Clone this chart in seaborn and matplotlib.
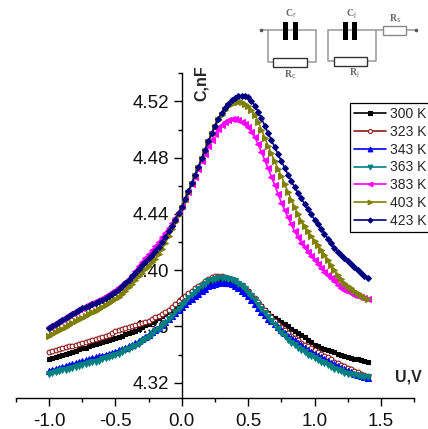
import pandas as pd
import matplotlib.pyplot as plt
import matplotlib.patches as patches
from matplotlib.ticker import MultipleLocator, FormatStrFormatter
import seaborn as sns

# bias voltage, V
U = [-1.000, -0.975, -0.950, -0.925, -0.900, -0.875, -0.850, -0.825, -0.800, -0.775, -0.750, -0.725, -0.700, -0.675, -0.650, -0.625,
     -0.600, -0.575, -0.550, -0.525, -0.500, -0.475, -0.450, -0.425, -0.400, -0.375, -0.350, -0.325, -0.300, -0.275, -0.250, -0.225,
     -0.200, -0.175, -0.150, -0.125, -0.100, -0.075, -0.050, -0.025, 0.000, 0.025, 0.050, 0.075, 0.100, 0.125, 0.150, 0.175,
     0.200, 0.225, 0.250, 0.275, 0.300, 0.325, 0.350, 0.375, 0.400, 0.425, 0.450, 0.475, 0.500, 0.525, 0.550, 0.575,
     0.600, 0.625, 0.650, 0.675, 0.700, 0.725, 0.750, 0.775, 0.800, 0.825, 0.850, 0.875, 0.900, 0.925, 0.950, 0.975,
     1.000, 1.025, 1.050, 1.075, 1.100, 1.125, 1.150, 1.175, 1.200, 1.225, 1.250, 1.275, 1.300, 1.325, 1.350, 1.375, 1.400]

# capacitance, nF
c_300 = [4.3370,4.3378,4.3385,4.3393,4.3400,4.3407,4.3414,4.3421,4.3428,4.3436,4.3443,4.3450,4.3458,4.3466,4.3473,4.3480,
         4.3488,4.3495,4.3502,4.3510,4.3517,4.3526,4.3535,4.3544,4.3552,4.3561,4.3570,4.3582,4.3595,4.3607,4.3620,4.3632,
         4.3645,4.3658,4.3672,4.3686,4.3700,4.3714,4.3728,4.3741,4.3755,4.3772,4.3790,4.3807,4.3825,4.3845,4.3865,4.3886,
         4.3905,4.3919,4.3930,4.3936,4.3940,4.3938,4.3935,4.3926,4.3915,4.3903,4.3890,4.3871,4.3850,4.3823,4.3795,4.3770,
         4.3745,4.3720,4.3695,4.3677,4.3660,4.3645,4.3630,4.3615,4.3600,4.3585,4.3570,4.3555,4.3540,4.3522,4.3505,4.3487,
         4.3470,4.3460,4.3450,4.3440,4.3430,4.3422,4.3415,4.3407,4.3400,4.3392,4.3385,4.3377,4.3370,4.3365,4.3360,4.3355,4.3350]
c_323 = [4.3419,4.3425,4.3432,4.3438,4.3445,4.3451,4.3458,4.3464,4.3470,4.3477,4.3483,4.3490,4.3497,4.3503,4.3510,4.3517,
         4.3524,4.3532,4.3540,4.3552,4.3564,4.3572,4.3580,4.3587,4.3595,4.3602,4.3610,4.3617,4.3625,4.3633,4.3642,4.3653,
         4.3665,4.3677,4.3690,4.3705,4.3720,4.3740,4.3760,4.3780,4.3800,4.3817,4.3835,4.3852,4.3870,4.3887,4.3905,4.3923,
         4.3940,4.3949,4.3955,4.3958,4.3960,4.3953,4.3945,4.3935,4.3925,4.3911,4.3895,4.3874,4.3850,4.3826,4.3800,4.3773,
         4.3745,4.3718,4.3690,4.3665,4.3640,4.3618,4.3597,4.3573,4.3550,4.3532,4.3515,4.3500,4.3485,4.3471,4.3458,4.3445,
         4.3433,4.3419,4.3405,4.3392,4.3380,4.3365,4.3350,4.3338,4.3326,4.3315,4.3305,4.3295,4.3285,4.3275,4.3265,4.3256,4.3248]
c_343 = [4.3286,4.3292,4.3298,4.3304,4.3310,4.3318,4.3325,4.3332,4.3338,4.3345,4.3352,4.3358,4.3365,4.3372,4.3380,4.3387,
         4.3393,4.3399,4.3405,4.3412,4.3420,4.3430,4.3440,4.3450,4.3460,4.3470,4.3480,4.3495,4.3510,4.3525,4.3540,4.3557,
         4.3575,4.3592,4.3610,4.3630,4.3650,4.3672,4.3695,4.3718,4.3740,4.3760,4.3780,4.3798,4.3815,4.3832,4.3850,4.3868,
         4.3885,4.3896,4.3905,4.3910,4.3913,4.3912,4.3910,4.3901,4.3890,4.3873,4.3855,4.3835,4.3813,4.3787,4.3760,4.3733,
         4.3705,4.3680,4.3655,4.3635,4.3615,4.3596,4.3576,4.3555,4.3535,4.3517,4.3500,4.3482,4.3465,4.3450,4.3435,4.3420,
         4.3405,4.3392,4.3380,4.3367,4.3355,4.3342,4.3330,4.3317,4.3305,4.3295,4.3285,4.3275,4.3265,4.3256,4.3248,4.3241,4.3234]
c_363 = [4.3262,4.3268,4.3275,4.3281,4.3287,4.3293,4.3300,4.3306,4.3313,4.3319,4.3325,4.3331,4.3338,4.3344,4.3350,4.3357,
         4.3365,4.3372,4.3380,4.3388,4.3397,4.3407,4.3418,4.3429,4.3440,4.3451,4.3462,4.3478,4.3495,4.3510,4.3526,4.3545,
         4.3565,4.3585,4.3605,4.3627,4.3650,4.3675,4.3700,4.3727,4.3754,4.3777,4.3800,4.3823,4.3845,4.3865,4.3885,4.3903,
         4.3920,4.3931,4.3940,4.3944,4.3946,4.3944,4.3940,4.3931,4.3920,4.3903,4.3885,4.3863,4.3840,4.3813,4.3785,4.3755,
         4.3725,4.3695,4.3665,4.3637,4.3610,4.3582,4.3554,4.3529,4.3505,4.3485,4.3465,4.3447,4.3430,4.3415,4.3400,4.3388,
         4.3376,4.3363,4.3350,4.3337,4.3325,4.3312,4.3300,4.3290,4.3280,4.3272,4.3265,4.3258,4.3252,4.3248,4.3245,4.3243,4.3241]
c_383 = [4.3597,4.3611,4.3625,4.3639,4.3653,4.3667,4.3681,4.3695,4.3708,4.3721,4.3733,4.3745,4.3757,4.3769,4.3778,4.3789,
         4.3800,4.3813,4.3827,4.3842,4.3858,4.3877,4.3897,4.3918,4.3940,4.3965,4.3995,4.4030,4.4060,4.4090,4.4115,4.4140,
         4.4170,4.4200,4.4235,4.4265,4.4300,4.4335,4.4372,4.4412,4.4455,4.4505,4.4555,4.4610,4.4665,4.4720,4.4775,4.4828,
         4.4880,4.4927,4.4970,4.5005,4.5035,4.5055,4.5070,4.5073,4.5072,4.5065,4.5055,4.5037,4.5015,4.4983,4.4945,4.4895,
         4.4840,4.4783,4.4725,4.4665,4.4605,4.4542,4.4480,4.4427,4.4375,4.4325,4.4275,4.4235,4.4195,4.4162,4.4130,4.4102,
         4.4074,4.4044,4.4015,4.3990,4.3965,4.3942,4.3920,4.3897,4.3875,4.3862,4.3850,4.3837,4.3825,4.3817,4.3810,4.3803,4.3797]
c_403 = [4.3533,4.3546,4.3559,4.3572,4.3585,4.3598,4.3611,4.3624,4.3637,4.3650,4.3663,4.3675,4.3687,4.3699,4.3711,4.3722,
         4.3735,4.3749,4.3763,4.3778,4.3794,4.3812,4.3832,4.3855,4.3880,4.3905,4.3930,4.3955,4.3980,4.4005,4.4030,4.4055,
         4.4082,4.4112,4.4148,4.4190,4.4240,4.4290,4.4340,4.4390,4.4440,4.4495,4.4550,4.4610,4.4670,4.4730,4.4790,4.4850,
         4.4910,4.4967,4.5020,4.5065,4.5105,4.5137,4.5165,4.5183,4.5195,4.5198,4.5195,4.5185,4.5170,4.5140,4.5105,4.5055,
         4.5000,4.4942,4.4885,4.4830,4.4775,4.4722,4.4669,4.4612,4.4555,4.4502,4.4450,4.4400,4.4350,4.4312,4.4275,4.4242,
         4.4210,4.4177,4.4145,4.4110,4.4075,4.4037,4.4000,4.3967,4.3935,4.3912,4.3890,4.3870,4.3850,4.3835,4.3820,4.3808,4.3797]
c_423 = [4.3590,4.3604,4.3618,4.3632,4.3646,4.3660,4.3674,4.3688,4.3702,4.3715,4.3728,4.3740,4.3748,4.3758,4.3768,4.3779,
         4.3790,4.3802,4.3815,4.3830,4.3847,4.3866,4.3887,4.3909,4.3932,4.3956,4.3982,4.4010,4.4035,4.4060,4.4085,4.4110,
         4.4135,4.4165,4.4200,4.4235,4.4275,4.4315,4.4360,4.4405,4.4450,4.4505,4.4560,4.4617,4.4675,4.4735,4.4795,4.4855,
         4.4915,4.4972,4.5025,4.5075,4.5120,4.5155,4.5185,4.5208,4.5225,4.5236,4.5240,4.5238,4.5230,4.5205,4.5170,4.5128,
         4.5080,4.5028,4.4975,4.4925,4.4875,4.4825,4.4776,4.4728,4.4680,4.4635,4.4590,4.4550,4.4510,4.4472,4.4435,4.4397,
         4.4360,4.4327,4.4293,4.4258,4.4225,4.4190,4.4155,4.4132,4.4110,4.4087,4.4065,4.4042,4.4020,4.3998,4.3978,4.3960,4.3945]

labels = ['300 K', '323 K', '343 K', '363 K', '383 K', '403 K', '423 K']
series = [c_300, c_323, c_343, c_363, c_383, c_403, c_423]
colors = ['#000000', '#8b1a1a', '#0000ff', '#008080', '#ff00ff', '#808000', '#000080']
markers = ['s', 'o', '^', 'v', '<', '>', 'D']
sizes = [3.4, 3.4, 4.0, 4.0, 4.0, 4.0, 3.0]

sns.set_style('white')
plt.rcParams['font.family'] = ['Liberation Sans', 'DejaVu Sans']

W, H = 428, 429
fig = plt.figure(figsize=(W / 100, H / 100), dpi=100)
ax = fig.add_axes([16 / W, 1 - 397.7 / H, 398 / W, 324.4 / H])

for name, vals, col, mk, size in zip(labels, series, colors, markers, sizes):
    face = 'white' if mk == 'o' else col
    sns.lineplot(x=U, y=vals, ax=ax, color=col, marker=mk, markersize=size, markerfacecolor=face,
                 markeredgecolor=col, markeredgewidth=0.8, linewidth=1.2, label=name, errorbar=None, zorder=3)

ax.set_xlim(-1.25, 1.75)
ax.set_ylim(4.3093, 4.54)
ax.set_xlabel('')
ax.set_ylabel('')

# axes cross at zero, no box
ax.spines['left'].set_position(('data', 0))
ax.spines['top'].set_visible(False)
ax.spines['right'].set_visible(False)
for s in ['left', 'bottom']:
    ax.spines[s].set_linewidth(1.0)
    ax.spines[s].set_color('black')

ax.xaxis.set_major_locator(MultipleLocator(0.5))
ax.xaxis.set_minor_locator(MultipleLocator(0.25))
ax.yaxis.set_major_locator(MultipleLocator(0.04))
ax.yaxis.set_minor_locator(MultipleLocator(0.02))
ax.xaxis.set_major_formatter(FormatStrFormatter('%.1f'))
ax.yaxis.set_major_formatter(FormatStrFormatter('%.2f'))
ax.tick_params(which='major', direction='out', length=6, width=1, labelsize=13.5, color='black', labelcolor='#111111',
               bottom=True, left=True, pad=3)
ax.tick_params(which='minor', direction='out', length=3, width=1, color='black', bottom=True, left=True)
ax.tick_params(axis='x', which='major', pad=5)
ax.patch.set_alpha(0)

leg = ax.legend(loc='upper left', bbox_to_anchor=(349.5 / W, 1 - 103 / H), bbox_transform=fig.transFigure,
                frameon=True, fancybox=False, framealpha=1, edgecolor='black', fontsize=10, handlelength=2.3,
                handletextpad=0.3, labelspacing=0.27, borderpad=0.3, borderaxespad=0, markerscale=0.85)
leg.get_frame().set_linewidth(0.9)
leg.set_zorder(5)

fig.text(201 / W, 1 - 101 / H, 'C,nF', rotation=90, fontsize=11.5, fontweight='bold', ha='center', va='bottom')
fig.text(422 / W, 1 - 377 / H, 'U,V', fontsize=11.5, fontweight='bold', ha='right', va='center')

# equivalent circuit, coordinates are in reference pixels
cir = fig.add_axes([0, 0, 1, 1], zorder=6)
cir.set_xlim(0, W)
cir.set_ylim(H, 0)
cir.axis('off')
cir.patch.set_alpha(0)
grey = '#999999'
wires = [([261, 316], [30, 30]), ([268.3, 268.3, 273.3], [30, 61.5, 61.5]), ([307.3, 316, 316], [61.5, 61.5, 30]),
         ([328.3, 328.3, 334.3], [30, 61, 61]), ([366.7, 375.7, 375.7], [61, 61, 30]), ([328.3, 383], [30, 30]),
         ([406, 416], [30, 30])]
for xs, ys in wires:
    cir.plot(xs, ys, color=grey, lw=1.1)
cir.plot([261, 416], [30, 30], ls='none', marker='o', ms=1.6, color='#555555')
for x0 in [283.4, 292.6, 343.3, 352.3]:
    cir.add_patch(patches.Rectangle((x0, 21.7), 5, 18.3, fc='black', ec='none', zorder=3))
for x0, y0, w, h, ec in [(273.3, 58, 34, 8.7, '#333333'), (334.3, 57.3, 32.4, 8.7, '#333333'), (383, 25.7, 23, 9.3, '#888888')]:
    cir.add_patch(patches.Rectangle((x0, y0), w, h, fc='white', ec=ec, lw=1.0, zorder=3))
for x0, y0, txt in [(290.5, 14, 'C$_{\\mathrm{r}}$'), (351, 14, 'C$_{\\mathrm{j}}$'), (395, 19, 'R$_{\\mathrm{s}}$'),
                    (290.5, 74.5, 'R$_{\\mathrm{c}}$'), (354, 73, 'R$_{\\mathrm{j}}$')]:
    cir.text(x0, y0, txt, fontsize=7, fontweight='bold', color='#666666', family='Liberation Serif',
             ha='center', va='center')

fig.savefig('out.png', dpi=100)
